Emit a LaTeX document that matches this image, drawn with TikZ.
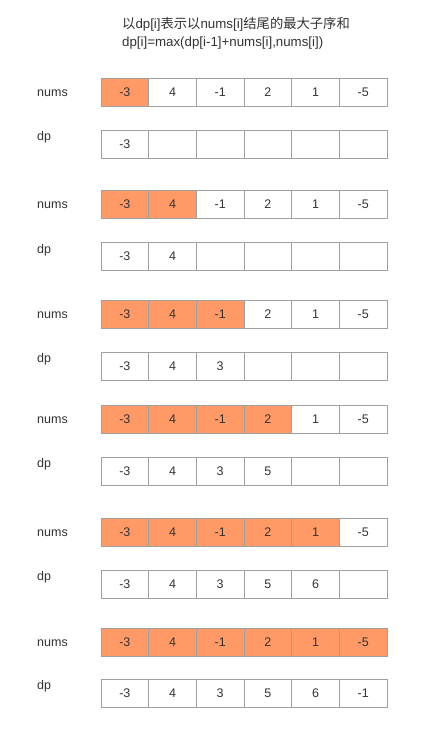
\documentclass[tikz,border=0pt]{standalone}
\usepackage{fontspec}
\setmainfont{Liberation Sans}
\newfontfamily\cjk{Noto Sans CJK SC}
\definecolor{hl}{HTML}{FF9966}
\definecolor{bd}{HTML}{A0A0A0}
\definecolor{tx}{HTML}{333333}
\begin{document}
\begin{tikzpicture}[x=1pt,y=-1pt,
  cell/.style={draw=bd, line width=1pt, minimum width=47.67pt, minimum height=28pt,
    inner sep=0pt, outer sep=0pt, anchor=north west, text=tx,
    font=\fontsize{12.5}{15}\selectfont},
  lbl/.style={anchor=west, inner sep=0pt, text=tx, font=\fontsize{12.5}{15}\selectfont},
  ttl/.style={anchor=base west, inner sep=0pt, text=tx, font=\fontsize{13.3}{16}\selectfont}]
\useasboundingbox[fill=white] (0,0) rectangle (443,734);
\node[ttl] (t1) at (122,28) {{\cjk 以}dp[i]{\cjk 表示以}nums[i]{\cjk 结尾的最大子序和}};
\node[ttl] (t2) at (122,46) {dp[i]=max(dp[i-1]+nums[i],nums[i])};
\foreach \r/\nt/\dt in {1/78/130, 2/190.5/242.5, 3/300/352, 4/405.5/457, 5/518.5/570, 6/628/679} {
  \node[lbl] (ln\r) at (37,\nt+15) {nums};
  \node[lbl] (ld\r) at (37,\dt+7.5) {dp};
  \foreach \v [count=\c] in {-3,4,-1,2,1,-5} {
    \ifnum\c>\r \def\fc{white}\else\def\fc{hl}\fi
    \node[cell, fill=\fc] (n\r-\c) at (101+47.67*\c-47.67,\nt) {\v};
  }
  \foreach \v [count=\c] in {-3,4,3,5,6,-1} {
    \ifnum\c>\r \def\dv{}\else\def\dv{\v}\fi
    \node[cell, fill=white] (d\r-\c) at (101+47.67*\c-47.67,\dt) {\dv};
  }
}
\end{tikzpicture}
\end{document}
